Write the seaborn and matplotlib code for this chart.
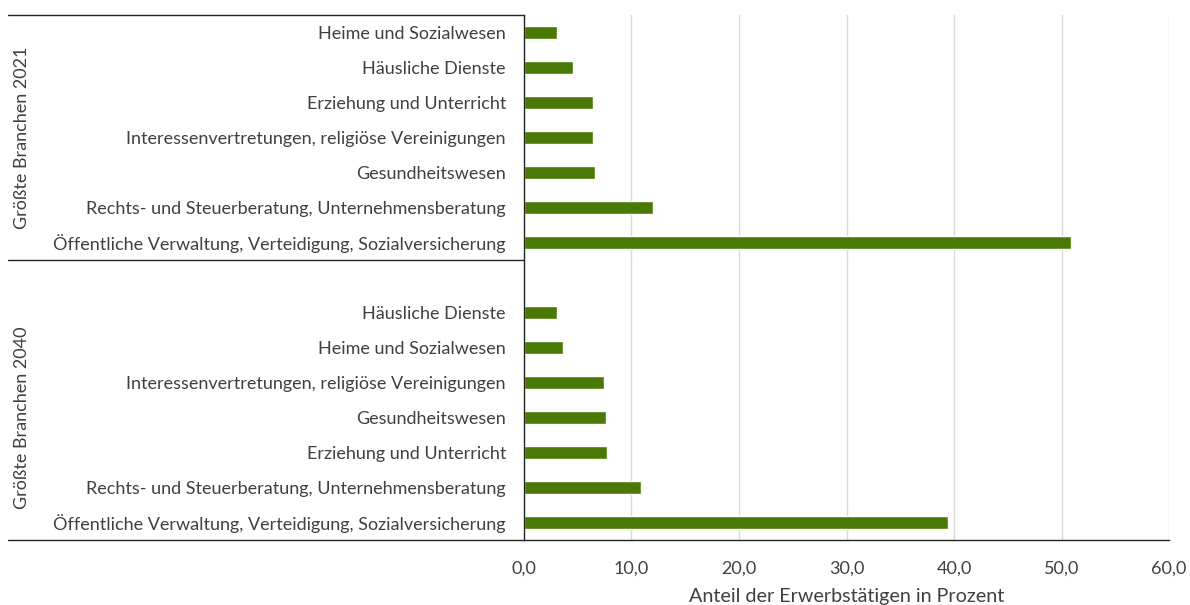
import matplotlib
matplotlib.use("Agg")
import matplotlib.pyplot as plt
import seaborn as sns
import pandas as pd

# data
branchen_2021 = [
    "Heime und Sozialwesen",
    "Häusliche Dienste",
    "Erziehung und Unterricht",
    "Interessenvertretungen, religiöse Vereinigungen",
    "Gesundheitswesen",
    "Rechts- und Steuerberatung, Unternehmensberatung",
    "Öffentliche Verwaltung, Verteidigung, Sozialversicherung",
]
anteil_2021 = [3.1, 4.6, 6.4, 6.4, 6.6, 12.0, 50.9]

branchen_2040 = [
    "Häusliche Dienste",
    "Heime und Sozialwesen",
    "Interessenvertretungen, religiöse Vereinigungen",
    "Gesundheitswesen",
    "Erziehung und Unterricht",
    "Rechts- und Steuerberatung, Unternehmensberatung",
    "Öffentliche Verwaltung, Verteidigung, Sozialversicherung",
]
anteil_2040 = [3.1, 3.6, 7.4, 7.6, 7.7, 10.9, 39.4]

gruppen = ["Größte Branchen 2021", "Größte Branchen 2040"]
x_ticks = [0, 10, 20, 30, 40, 50, 60]
x_label = "Anteil der Erwerbstätigen in Prozent"

# unique keys per slot, with an empty slot between the two groups
keys_2021 = ["2021|" + b for b in branchen_2021]
keys_2040 = ["2040|" + b for b in branchen_2040]
order = keys_2021 + ["gap"] + keys_2040
tick_labels = branchen_2021 + [""] + branchen_2040

df = pd.DataFrame({
    "key": keys_2021 + keys_2040,
    "anteil": anteil_2021 + anteil_2040,
})

sns.set_style("white")
plt.rcParams["font.family"] = ["Lato", "DejaVu Sans"]

text_col = "#404040"
line_col = "#262626"
fs = 13

fig = plt.figure(figsize=(11.9, 6.05), dpi=100)
ax = fig.add_axes([0.4403, 0.1074, 0.5421, 0.8678])

sns.barplot(data=df, x="anteil", y="key", order=order, orient="h",
            color="#4A7A05", saturation=1, width=0.37, ax=ax)

ax.set_xlim(0, 60)
ax.set_ylim(len(order) - 0.5, -0.5)
ax.set_xticks(x_ticks)
ax.set_xticklabels([f"{t:.1f}".replace(".", ",") for t in x_ticks])
ax.set_yticks(range(len(order)))
ax.set_yticklabels(tick_labels)
ax.tick_params(axis="both", length=0, labelsize=fs, colors=text_col)
ax.tick_params(axis="y", pad=13)
ax.tick_params(axis="x", pad=15)
ax.set_ylabel("")
ax.set_xlabel(x_label, fontsize=14.2, color=text_col, labelpad=8)

ax.xaxis.grid(True, color="#d9d9d9", linewidth=1)
ax.set_axisbelow(True)
for s in ["top", "right"]:
    ax.spines[s].set_visible(False)
ax.spines["left"].set_color(line_col)
ax.spines["bottom"].set_color(line_col)
ax.spines["left"].set_linewidth(1)
ax.spines["bottom"].set_linewidth(1)

# group frame lines reaching into the label area
tr = ax.get_yaxis_transform()
left = -0.8
for y in [-0.5, 6.5]:
    ax.plot([left, 0], [y, y], color=line_col, linewidth=1,
            transform=tr, clip_on=False)
ax.plot([left, 0], [14.5, 14.5], color=line_col, linewidth=1,
        transform=tr, clip_on=False)

for g, yc in zip(gruppen, [3, 11]):
    ax.text(-0.778, yc, g, transform=tr, rotation=90, ha="center",
            va="center", fontsize=fs, color=text_col)

fig.savefig("out.png", dpi=100)
